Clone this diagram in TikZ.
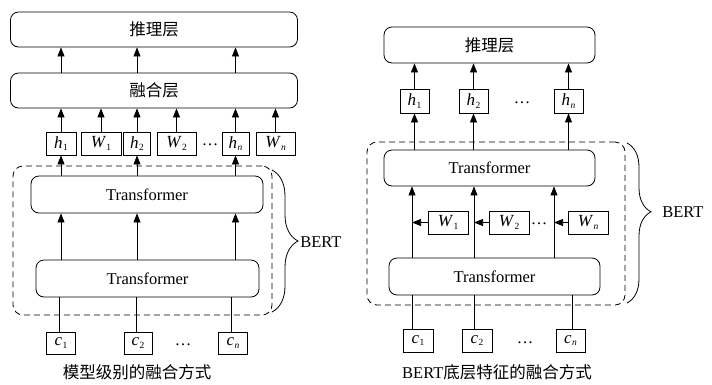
\documentclass[tikz,border=0pt]{standalone}
\usepackage{fontspec}
\setmainfont{Liberation Serif}
\newfontfamily\cjk{Noto Sans CJK SC}
\usetikzlibrary{arrows.meta,decorations.pathreplacing,calc}
\newcommand\vsub[2]{\textit{#1}\kern0.3pt\raisebox{-0.35ex}{\fontsize{9.5}{10}\selectfont#2}}
\begin{document}
\begin{tikzpicture}[x=1pt,y=-1pt,
  line width=0.7pt,
  every node/.style={font=\fontsize{16.5}{18}\selectfont, inner sep=0pt},
  rbox/.style={draw, rounded corners=8pt, line width=0.8pt},
  sbox/.style={draw, line width=0.8pt, minimum height=23pt, font=\fontsize{17}{18}\selectfont},
  dbox/.style={draw, dashed, dash pattern=on 6pt off 4pt, rounded corners=10pt, line width=0.8pt},
  arr/.style={-{Triangle[length=9pt,width=7pt]}},
  brc/.style={decorate, decoration={brace, amplitude=26pt}, line width=0.8pt}]
\useasboundingbox (0,0) rectangle (712,384);

% ---------------- Left panel ----------------
\node[rbox, minimum width=287pt, minimum height=35pt] (infL) at (154,29.5) {\cjk 推理层};
\node[rbox, minimum width=287pt, minimum height=35pt] (fusL) at (154,90.5) {\cjk 融合层};

\node[sbox, minimum width=30pt] (hL1) at (61,143.5) {\vsub{h}{1}};
\node[sbox, minimum width=40pt] (WL1) at (101,143.5) {\vsub{W}{1}};
\node[sbox, minimum width=27pt] (hL2) at (137,143.5) {\vsub{h}{2}};
\node[sbox, minimum width=39pt] (WL2) at (176.5,143.5) {\vsub{W}{2}};
\node (dotsL1) at (210,145) {\dots};
\node[sbox, minimum width=27pt] (hLn) at (235.5,143.5) {\vsub{h}{\textit{n}}};
\node[sbox, minimum width=39pt] (WLn) at (275.5,143.5) {\vsub{W}{\textit{n}}};

\node[dbox, minimum width=259pt, minimum height=149pt] (bertL) at (142.5,240.5) {};
\node[rbox, minimum width=232pt, minimum height=37pt] (tUL) at (147,194.5) {Transformer};
\node[rbox, minimum width=223pt, minimum height=37pt] (tLL) at (147.5,278.5) {Transformer};

\node[sbox, minimum width=29pt, minimum height=22pt] (cL1) at (61,343) {\vsub{c}{1}};
\node[sbox, minimum width=28pt, minimum height=22pt] (cL2) at (138,343) {\vsub{c}{2}};
\node (dotsL2) at (183,345) {\dots};
\node[sbox, minimum width=29pt, minimum height=22pt] (cLn) at (233,343) {\vsub{c}{\textit{n}}};

% arrows fusion -> inference
\foreach \n in {hL1,hL2,hLn}{
  \draw[arr] (fusL.north -| \n.north) -- (infL.south -| \n.north);
}
% arrows boxes -> fusion
\foreach \n in {hL1,WL1,hL2,WL2,hLn,WLn}{
  \draw[arr] (\n.north) -- (\n.north |- fusL.south);
}
% transformer -> h
\foreach \n in {hL1,hL2,hLn}{
  \draw[arr] (tUL.north -| \n.south) -- (\n.south);
  \draw[arr] (tLL.north -| \n.south) -- (tUL.south -| \n.south);
}
% c -> lower transformer
\foreach \n in {cL1,cL2,cLn}{
  \draw ([xshift=-2pt]\n.north) -- ([xshift=-2pt]\n.north |- tLL.south);
}
\coordinate (bLt) at (272,170);
\coordinate (bLb) at (272,312);
\draw[brc] (bLt) -- (bLb);
\node[anchor=west] (bertLtxt) at (300,242) {BERT};
\node (capL) at (137,372) {\cjk 模型级别的融合方式};

% ---------------- Right panel ----------------
\node[rbox, minimum width=211pt, minimum height=36pt] (infR) at (489.5,45) {\cjk 推理层};
\node[sbox, minimum width=29pt, minimum height=24pt] (hR1) at (414.5,101) {\vsub{h}{1}};
\node[sbox, minimum width=29pt, minimum height=24pt] (hR2) at (473.5,101) {\vsub{h}{2}};
\node (dotsR1) at (522,103) {\dots};
\node[sbox, minimum width=29pt, minimum height=24pt] (hRn) at (568.5,101) {\vsub{h}{\textit{n}}};

\node[dbox, minimum width=258pt, minimum height=163pt] (bertR) at (496,223.5) {};
\node[rbox, minimum width=211pt, minimum height=36pt] (tUR) at (489.5,168) {Transformer};
\node[rbox, minimum width=211pt, minimum height=37pt] (tLR) at (494.5,276.5) {Transformer};

\node[sbox, minimum width=40pt] (WR1) at (448,222.5) {\vsub{W}{1}};
\node[sbox, minimum width=40pt] (WR2) at (509,222.5) {\vsub{W}{2}};
\node (dotsR2) at (539,224) {\dots};
\node[sbox, minimum width=40pt] (WRn) at (588,222.5) {\vsub{W}{\textit{n}}};

\node[sbox, minimum width=30pt, minimum height=23pt] (cR1) at (418,340.5) {\vsub{c}{1}};
\node[sbox, minimum width=30pt, minimum height=23pt] (cR2) at (477,340.5) {\vsub{c}{2}};
\node (dotsR3) at (525,343) {\dots};
\node[sbox, minimum width=29pt, minimum height=23pt] (cRn) at (570.5,340.5) {\vsub{c}{\textit{n}}};

\foreach \n in {hR1,hR2,hRn}{
  \draw[arr] (\n.north) -- (\n.north |- infR.south);
  \draw[arr] (tUR.north -| \n.south) -- (\n.south);
}
% vertical arrows lower -> upper transformer
\coordinate (vR1) at (412,0);
\coordinate (vR2) at (474,0);
\coordinate (vRn) at (554,0);
\foreach \v/\w in {vR1/WR1,vR2/WR2,vRn/WRn}{
  \draw[arr] (tLR.north -| \v) -- (tUR.south -| \v);
  \draw[arr] (\w.west) -- (\w.west -| \v);
}
\draw ([xshift=-6pt]cR1.north) -- ([xshift=-6pt]cR1.north |- tLR.south);
\draw ([xshift=-3pt]cR2.north) -- ([xshift=-3pt]cR2.north |- tLR.south);
\draw ([xshift=1.5pt]cRn.north) -- ([xshift=1.5pt]cRn.north |- tLR.south);

\coordinate (bRt) at (627,143);
\coordinate (bRb) at (627,303);
\draw[brc, decoration={brace, amplitude=24pt, aspect=0.43}] (bRt) -- (bRb);
\node[anchor=west] (bertRtxt) at (662,212) {BERT};
\node (capR) at (497,372) {BERT{\cjk 底层特征的融合方式}};
\end{tikzpicture}
\end{document}
